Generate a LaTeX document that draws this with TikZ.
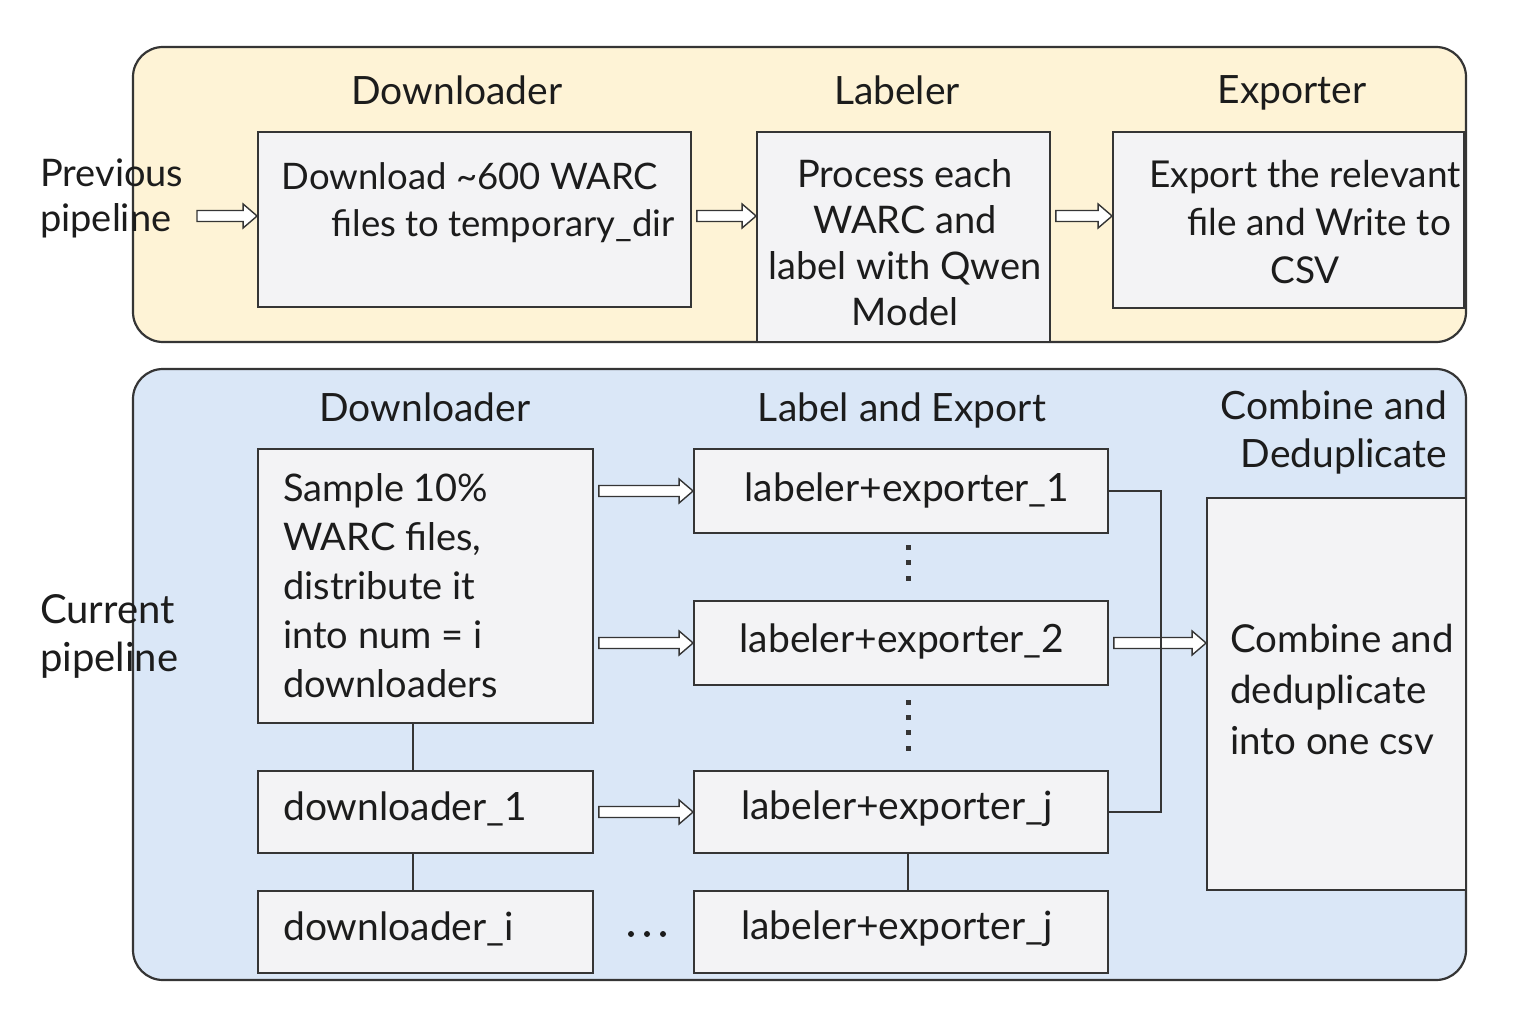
\documentclass[tikz,border=0pt]{standalone}
\usepackage{fontspec}
\setmainfont{Lato}
\usetikzlibrary{calc}
\definecolor{cream}{HTML}{FEF3D6}
\definecolor{sky}{HTML}{DAE7F7}
\definecolor{boxfill}{HTML}{F3F3F5}
\definecolor{ink}{HTML}{353535}
\definecolor{txtc}{HTML}{1C1C1C}
\begin{document}
\begin{tikzpicture}[x=1pt,y=-1pt,
  panel/.style={draw=ink, line width=2.2pt, rounded corners=30pt},
  box/.style={draw=ink, line width=1.8pt, fill=boxfill, inner sep=0pt},
  txt/.style={font=\fontsize{38}{48}\selectfont, text=txtc, inner sep=0pt},
  head/.style={font=\fontsize{39}{48}\selectfont, text=txtc, inner sep=0pt},
  harrow/.style={draw=ink, line width=1.4pt, fill=white,
    to path={let \p1=(\tikztostart), \p2=(\tikztotarget) in
      (\x1+5pt,\y1+5.5pt) -- (\x2-14pt,\y1+5.5pt) -- (\x2-14pt,\y1+12pt) -- (\x2,\y1)
      -- (\x2-14pt,\y1-12pt) -- (\x2-14pt,\y1-5.5pt) -- (\x1+5pt,\y1-5.5pt) -- cycle}},
  link/.style={draw=ink, line width=1.8pt},
  sqdot/.style={fill=ink, minimum size=5pt, inner sep=0pt, outer sep=0pt, rectangle},
  rdot/.style={fill=txtc, circle, minimum size=6pt, inner sep=0pt, outer sep=0pt}
]
\useasboundingbox[fill=white] (0,0) rectangle (1536,1024);

% panels
\path[panel, fill=cream] (133,47) rectangle (1466,342);
\path[panel, fill=sky] (133,369) rectangle (1466,980);

% ---------- previous pipeline ----------
\node[txt, anchor=west, align=left, font=\fontsize{38}{45}\selectfont] (prev) at (40,198) {Previous\\pipeline};
\coordinate (pa) at (192,216);

\node[head] (h1) at (457,90) {Downloader};
\node[head] (h2) at (897,90) {Labeler};
\node[head] (h3) at (1292,93) {Exporter};

\node[box, minimum width=433pt, minimum height=175pt] (B1) at (474.5,219.5) {};
\node[box, minimum width=293pt, minimum height=210pt] (B2) at (903.5,237) {};
\node[box, minimum width=351pt, minimum height=176pt] (B3) at (1288.5,220) {};

\node[txt, font=\fontsize{36.5}{48}\selectfont] (t1a) at (470,176) {Download \textasciitilde600 WARC};
\node[txt, font=\fontsize{36.5}{48}\selectfont] (t1b) at (503,226) {files to temporary\_dir};
\node[txt, align=center, font=\fontsize{38}{46}\selectfont] (t2) at (905,243) {Process each\\WARC and\\label with Qwen\\Model};
\node[txt, align=center, font=\fontsize{37}{48}\selectfont] (t3) at (1305,222) {Export the relevant\\\ \ \ file and Write to\\CSV};

\draw[harrow] (pa) to (B1.west |- pa);
\draw[harrow] (B1.east |- pa) to (B2.west |- pa);
\draw[harrow] (B2.east |- pa) to (B3.west |- pa);

% ---------- current pipeline ----------
\node[txt, anchor=west, align=left, font=\fontsize{40}{48}\selectfont] (cur) at (40,636) {Current\\pipeline};

\node[head] (g1) at (425,407) {Downloader};
\node[head] (g2) at (902,410) {Label and Export};
\node[head, align=center] (g3) at (1334,432) {Combine and\\\ \ Deduplicate};

\node[box, minimum width=335pt, minimum height=274pt] (S) at (425.5,586) {};
\node[box, minimum width=414pt, minimum height=84pt] (L1) at (901,491) {};
\node[box, minimum width=414pt, minimum height=84pt] (L2) at (901,643) {};
\node[box, minimum width=414pt, minimum height=82pt] (Lj) at (901,812) {};
\node[box, minimum width=414pt, minimum height=82pt] (Lk) at (901,932) {};
\node[box, minimum width=335pt, minimum height=82pt] (D1) at (425.5,812) {};
\node[box, minimum width=335pt, minimum height=82pt] (Di) at (425.5,932) {};
\node[box, minimum width=259pt, minimum height=392pt] (C) at (1336.5,694) {};

\node[txt, anchor=west, align=left, font=\fontsize{38}{49}\selectfont] (st) at (283,586) {Sample 10\%\\WARC files,\\distribute it\\into num = i\\downloaders};
\node[txt, font=\fontsize{39}{48}\selectfont] (l1t) at (907,490) {labeler+exporter\_1};
\node[txt, font=\fontsize{39}{48}\selectfont] (l2t) at (902,641) {labeler+exporter\_2};
\node[txt, font=\fontsize{39}{48}\selectfont] (ljt) at (897,809) {labeler+exporter\_j};
\node[txt, font=\fontsize{39}{48}\selectfont] (lkt) at (897,929) {labeler+exporter\_j};
\node[txt, anchor=west, font=\fontsize{39}{48}\selectfont] (d1t) at (283,809) {downloader\_1};
\node[txt, anchor=west, font=\fontsize{39}{48}\selectfont] (dit) at (283,929) {downloader\_i};
\node[txt, anchor=west, align=left, font=\fontsize{38.5}{51}\selectfont] (ct) at (1230,689) {Combine and\\deduplicate\\into one csv};

% ellipsis between downloader_i and labeler+exporter_j
\node[rdot] (e1) at (631,934) {};
\node[rdot] (e2) at (647,934) {};
\node[rdot] (e3) at (663,934) {};

% dots
\foreach \yy in {547,562,578} \node[sqdot] at (908,\yy) {};
\foreach \yy in {702,717,732,748} \node[sqdot] at (908,\yy) {};

% connectors
\draw[link] ([xshift=-12.5pt]S.south) -- ([xshift=-12.5pt]D1.north);
\draw[link] ([xshift=-12.5pt]D1.south) -- ([xshift=-12.5pt]Di.north);
\draw[link] ([xshift=7pt]Lj.south) -- ([xshift=7pt]Lk.north);

\draw[harrow] (S.east |- L1.west) to (L1.west);
\draw[harrow] (S.east |- L2.west) to (L2.west);
\draw[harrow] (D1.east) to (Lj.west);
\draw[harrow] (L2.east) to (C.west |- L2.east);

\draw[link] (L1.east) -- ++(52,0) |- (Lj.east);
\end{tikzpicture}
\end{document}
